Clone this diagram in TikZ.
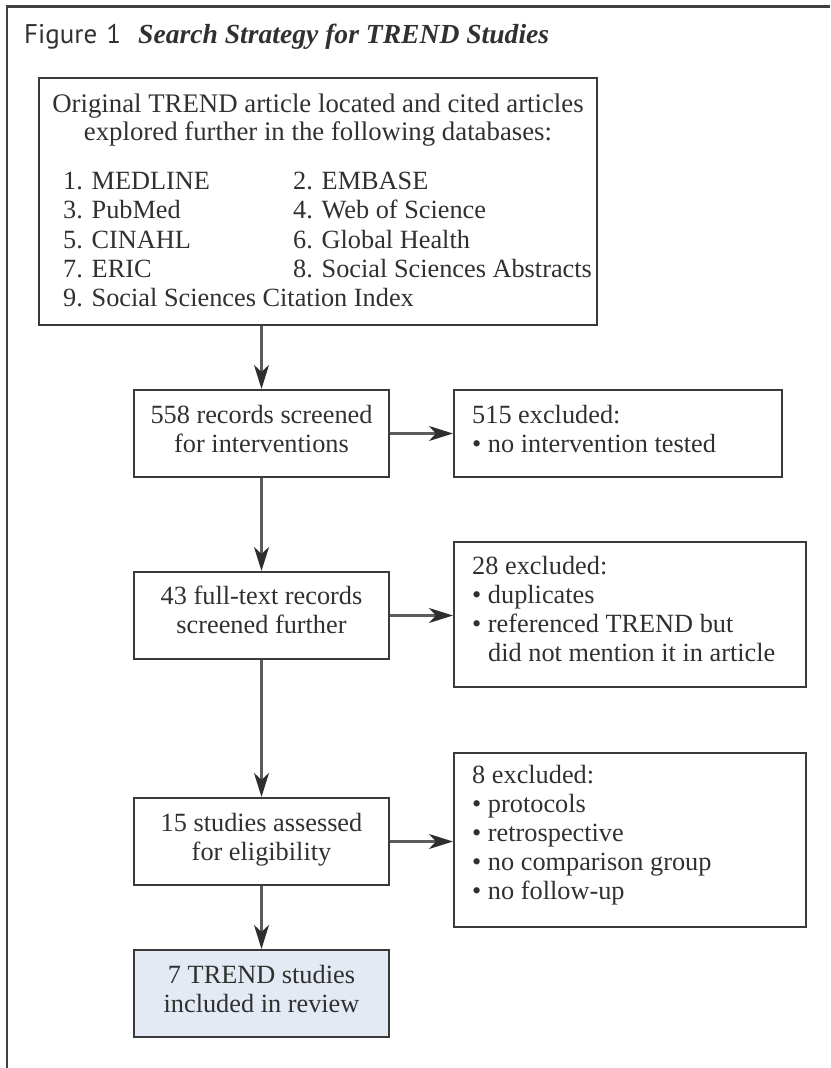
\documentclass[tikz,border=0pt]{standalone}
\usepackage{fontspec}
\setmainfont{Liberation Serif}
\newfontfamily\figsans{PT Sans}
\usetikzlibrary{arrows.meta}
\definecolor{inkc}{HTML}{303030}
\definecolor{framec}{HTML}{404040}
\definecolor{boxc}{HTML}{3A3A3A}
\definecolor{arrc}{HTML}{5C5C5C}
\definecolor{tipc}{HTML}{2E2E2E}
\definecolor{finalc}{HTML}{E3EAF3}
\begin{document}
\begin{tikzpicture}[x=1pt,y=-1pt,
  txt/.style={inner sep=0pt, anchor=base west, text=inkc, font=\fontsize{26.3}{29}\selectfont},
  ctxt/.style={inner sep=0pt, anchor=base, text=inkc, font=\fontsize{26.3}{29}\selectfont},
  boxnode/.style={draw=boxc, line width=2.1pt, inner sep=0pt, rectangle},
  flow/.style={draw=arrc, line width=2.2pt, -{Stealth[length=24pt,width=15pt,inset=7pt,color=tipc]}}
]
\useasboundingbox (0,0) rectangle (830,1068);
% outer frame (open on right and bottom)
\draw[framec, line width=2.4pt] (830,6.5) -- (7,6.5) -- (7,1068);

% title
\node[inner sep=0pt, anchor=base west, text=inkc, font=\figsans\fontsize{27}{30}\selectfont] (figlab) at (24,43) {Figure\hspace{9pt}1};
\node[inner sep=0pt, anchor=base west, text=inkc, font=\fontsize{27.6}{30}\selectfont\bfseries\itshape] (figtitle) at (138,43) {Search Strategy for TREND Studies};

% boxes
\node[boxnode, minimum width=558pt, minimum height=247pt] (b1) at (318,201.5) {};
\node[boxnode, minimum width=255pt, minimum height=87pt] (s558) at (261.5,433.5) {};
\node[boxnode, minimum width=328pt, minimum height=87pt] (x515) at (618,433.5) {};
\node[boxnode, minimum width=255pt, minimum height=87pt] (s43) at (261.5,615.5) {};
\node[boxnode, minimum width=352pt, minimum height=145pt] (x28) at (630,614.5) {};
\node[boxnode, minimum width=255pt, minimum height=87pt] (s15) at (261.5,841.5) {};
\node[boxnode, minimum width=352pt, minimum height=174pt] (x8) at (630,840) {};
\node[boxnode, fill=finalc, minimum width=255pt, minimum height=87pt] (fin) at (261.5,993.5) {};

% box 1 text
\node[ctxt, font=\fontsize{26.8}{29}\selectfont] (t1a) at (318,112) {Original TREND article located and cited articles};
\node[ctxt, font=\fontsize{26.8}{29}\selectfont] (t1b) at (318,140.5) {explored further in the following databases:};
\node[txt] (d1) at (63,189) {1. MEDLINE};
\node[txt] (d2) at (293,189) {2. EMBASE};
\node[txt] (d3) at (63,218.5) {3. PubMed};
\node[txt] (d4) at (293,218.5) {4. Web of Science};
\node[txt] (d5) at (63,248) {5. CINAHL};
\node[txt] (d6) at (293,248) {6. Global Health};
\node[txt] (d7) at (63,277) {7. ERIC};
\node[txt] (d8) at (293,277) {8. Social Sciences Abstracts};
\node[txt] (d9) at (63,306) {9. Social Sciences Citation Index};

% flow box texts
\node[ctxt] (t558a) at (261.5,423) {558 records screened};
\node[ctxt] (t558b) at (261.5,452) {for interventions};
\node[txt] (t515a) at (472,423) {515 excluded:};
\node[txt] (t515b) at (472,452) {• no intervention tested};

\node[ctxt] (t43a) at (261.5,604.5) {43 full-text records};
\node[ctxt] (t43b) at (261.5,633.5) {screened further};
\node[txt] (t28a) at (472,574) {28 excluded:};
\node[txt] (t28b) at (472,603) {• duplicates};
\node[txt] (t28c) at (472,632) {• referenced TREND but};
\node[txt] (t28d) at (488,661) {did not mention it in article};

\node[ctxt] (t15a) at (261.5,831) {15 studies assessed};
\node[ctxt] (t15b) at (261.5,860) {for eligibility};
\node[txt] (t8a) at (472,783) {8 excluded:};
\node[txt] (t8b) at (472,812) {• protocols};
\node[txt] (t8c) at (472,841) {• retrospective};
\node[txt] (t8d) at (472,870) {• no comparison group};
\node[txt] (t8e) at (472,899) {• no follow-up};

\node[ctxt] (t7a) at (261.5,983) {7 TREND studies};
\node[ctxt] (t7b) at (261.5,1012) {included in review};

% connectors
\draw[flow] (b1.south -| s558.north) -- (s558.north);
\draw[flow] (s558.east) -- (s558.east -| x515.west);
\draw[flow] (s558.south) -- (s43.north);
\draw[flow] (s43.east) -- (s43.east -| x28.west);
\draw[flow] (s43.south) -- (s15.north);
\draw[flow] (s15.east) -- (s15.east -| x8.west);
\draw[flow] (s15.south) -- (fin.north);
\end{tikzpicture}
\end{document}
